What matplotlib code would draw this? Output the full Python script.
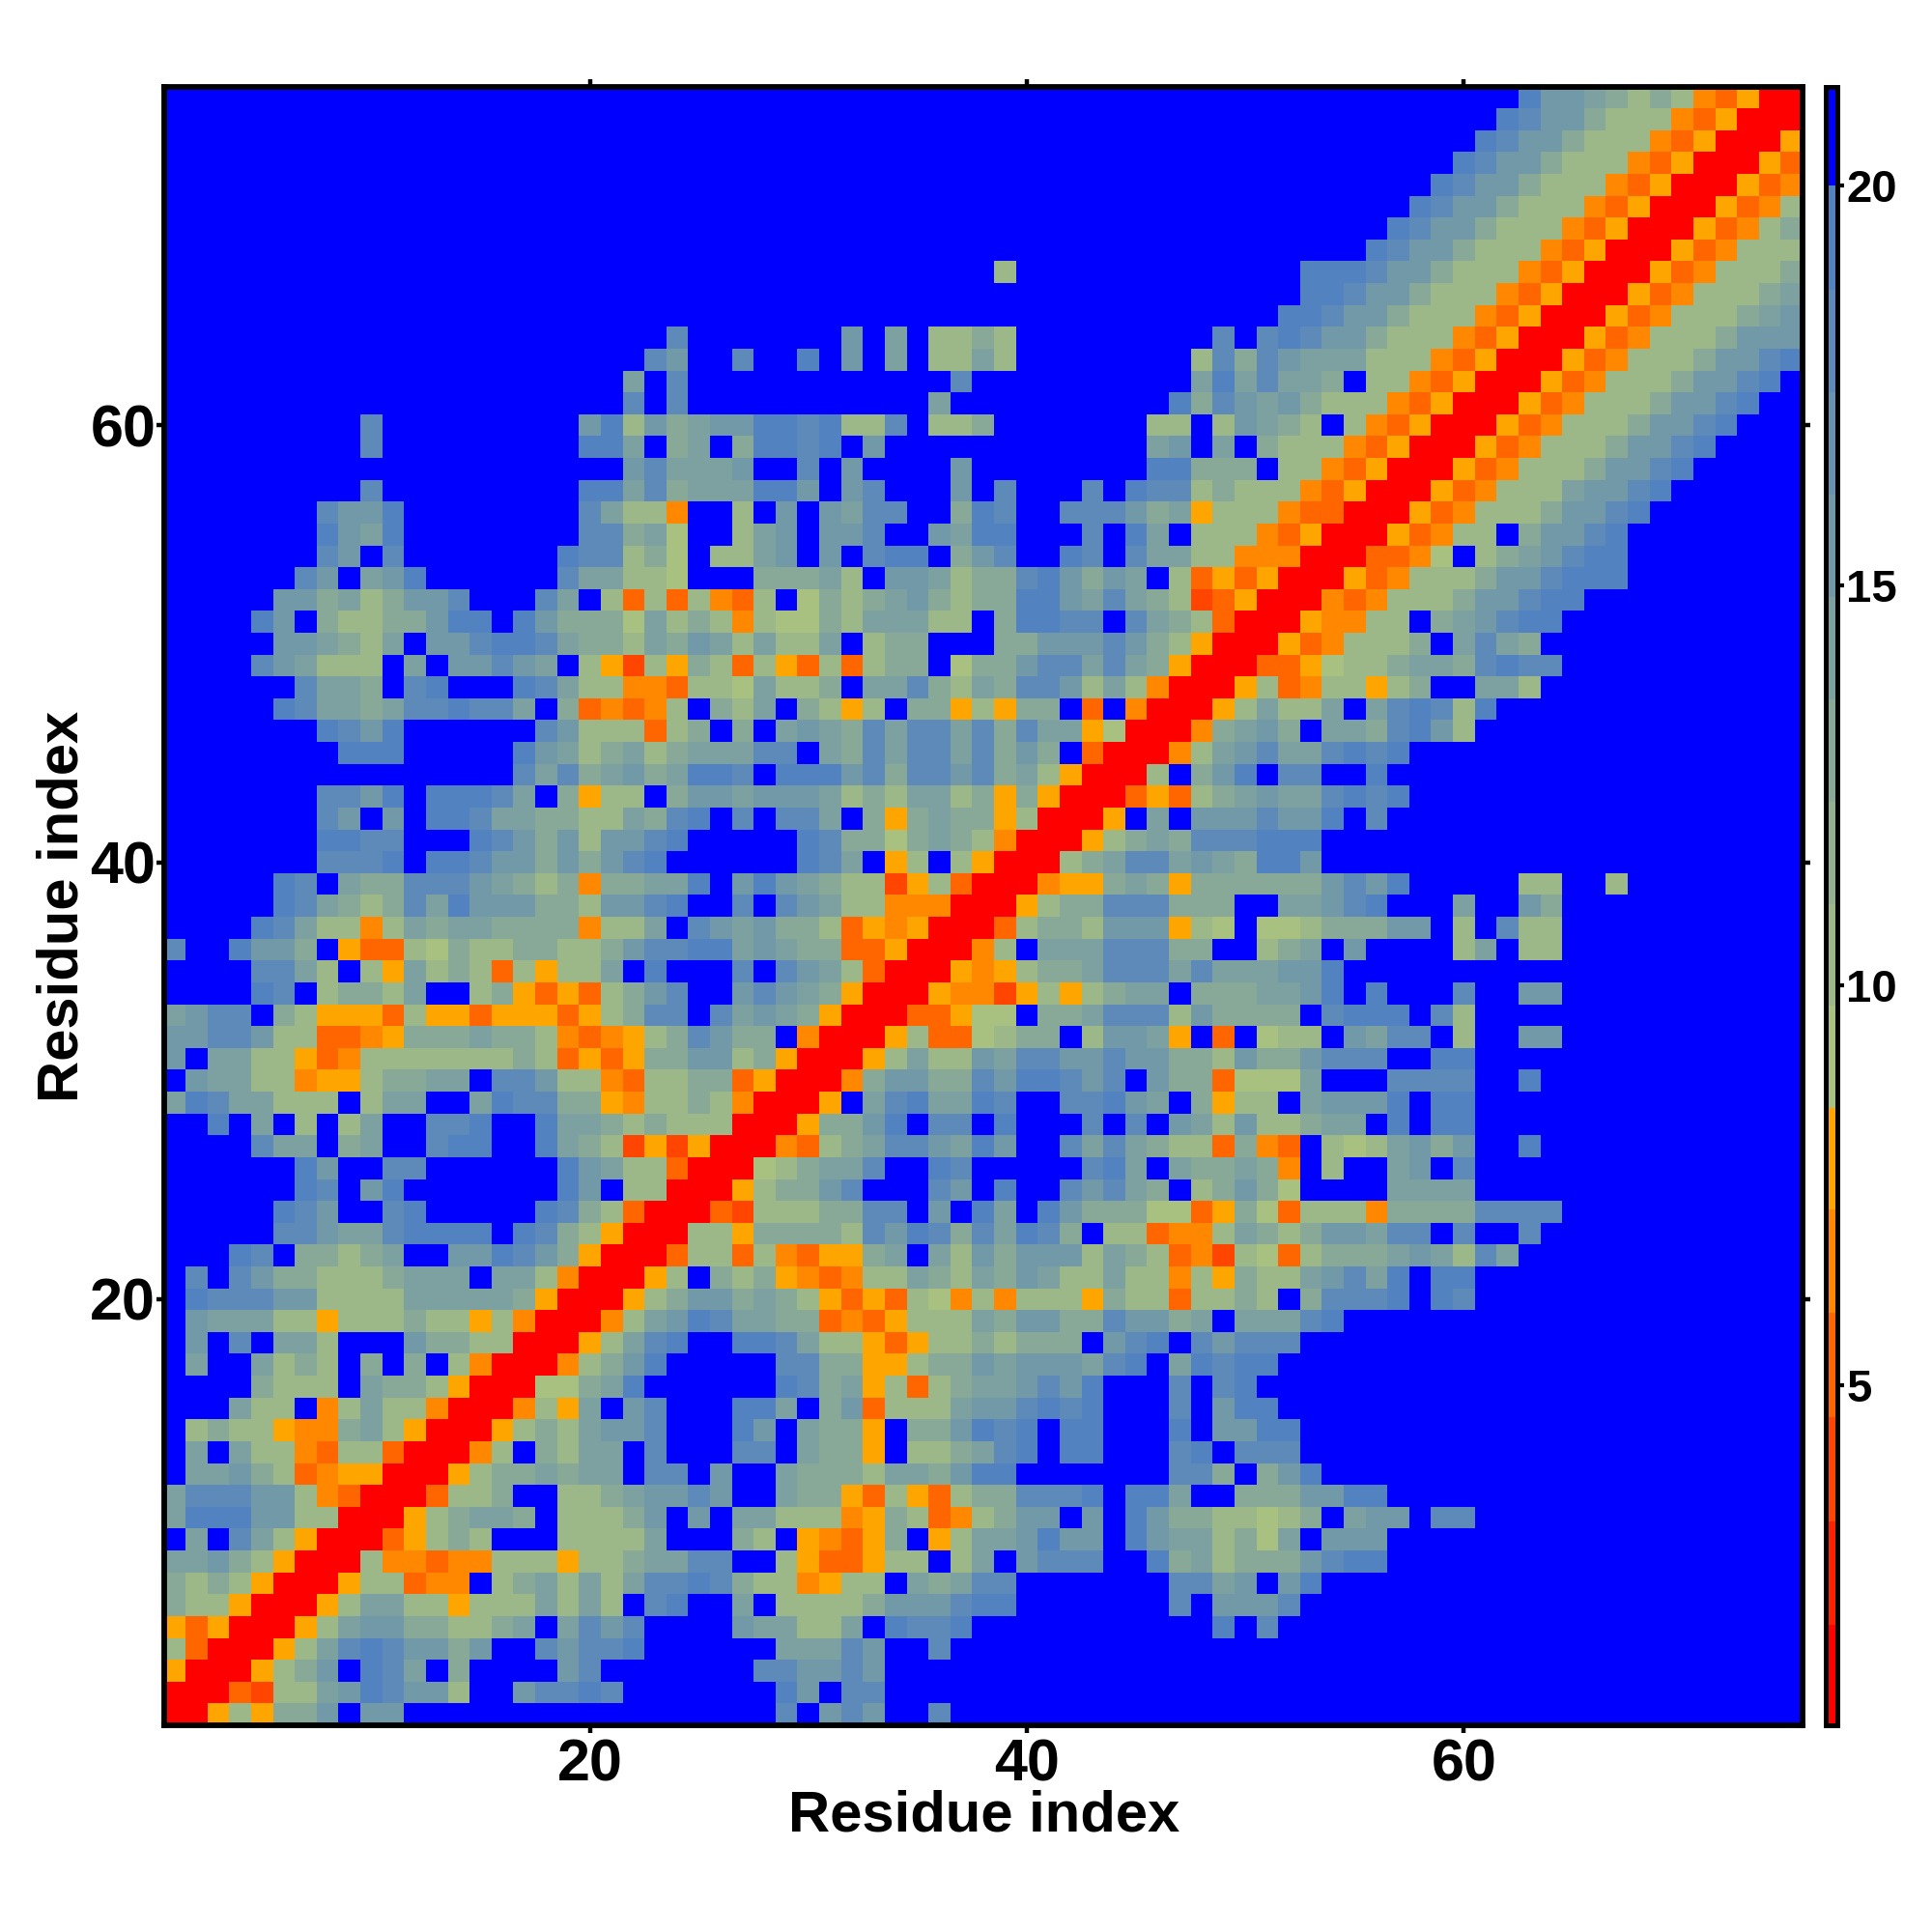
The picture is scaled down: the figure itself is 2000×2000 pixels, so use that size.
import numpy as np
import matplotlib
matplotlib.use("Agg")
import matplotlib.pyplot as plt
from matplotlib.colors import ListedColormap, BoundaryNorm, to_rgb

# Letters/digits stand for estimated distance levels; see LEVEL_VALUES.
LEFT_COLS = [  # residues 1-25
"rra2a335B55","rrrde224576552BB56676","arrra235B764B3BBBB56","2drrra246765535BB65667",
"adarrra2455332234B4656","322arrra24422a2224242B67","3232arrra22dooB2342424667","44532arrr2oodoo222a223446",
"B4B642arrrda232BBB22224","47775522rrra23443B22235B5","4666552odrrrd223BB2234556","B44532doaarrra2334344B66",
"B4B422od22drrro2B3244B6","B2322aoo342arrra2324556","BBB422Bo2422orrro2a4B56","BBBB3222B4332arrr11347",
"B4BB4232B3B3B2orrro2357","B5B6B442BBB53322rrra2467","B544422a222322a2orrro2457","B7666552222444443arrra235",
"B6B65332223444B442orrra2B","BBB76B33234BB557653arrrd2","BBBBB6654467777B7632arrr2","BBBBB765BB67BBBBB7632drrr",
"BBBBBB76B57BBBBBBB75B22rr","BBBBBB75BB66BBBBBB75422dr","BBBB644B34BB677BB7432eaea","BB7B4B2B24BB667BB74432322",
"47644222B244BB476633ao223","B54422oaa23344B66522od223","5B4422ado222222232dada335","5566522ddoa3334332odoa236",
"4566B32aaad2aadaaada2366B","BBBB76B23324BB23adad2356B","BBBB6642B2a4232d2a224B7","6BB7553Badd21322332235667",
"BBBB76422o243443333o224B6","BBBBB7643236475553325567","BBBBB76B43366654323o33447","BBBBBBB6667B77655353567",
"BBBBBBB7766BBB7653525567","BBBBBBB65B5B7764433224367","BBBBBBB6657B77764B3a22B35","BBBBBBBBBBBBBBBB646345347",
"BBBBBBBB777BBBBB754234234","BBBBBBB7657BBBBBB65222d23","BBBBB764434667664B3dodo2B","BBBBBB6443B67BBB76422ood2",
"BBBB654222B4B55654B2ae2a3","BBBBB554324B5567764332435","BBBB75B32233577B753331423","BBBBB553423556BBB64B2d2d2",
"BBBBBB65B457BBBBBB644221B","BBBBBBB65B6BBBBBBB766231B","BBBBBBB7547BBBBBBBB66341B","BBBBBBB6557BBBBBBBB6422oB",
"BBBBBBBBB6BBBBBBBBB774634","BBBBBBBBBBBBBBBBBBBBB5644","BBBBBBBBB6BBBBBBBBB774B34","BBBBBBBBB6BBBBBBBBB572534",
"BBBBBBBBBBBBBBBBBBBBB6B6B","BBBBBBBBBBBBBBBBBBBBB4B6B","BBBBBBBBBBBBBBBBBBBBBB65B","BBBBBBBBBBBBBBBBBBBBBBB6B",
"","","","","","","","","","","",
]
MID_COLS = [  # residues 26-51
"BBB6B565BB6","BBB75B66","BB665565","BBB44465BB6",
"B544224B7667BBBBBBBBBBB7B6","B4B22223555677BBBBBBB6B555","6322oa22B43466BBBBBBB6645B","6BB2adda22B24B5666BB734233",
"B32Baoda3Ba2445755B7544231","B44222oa32do2355B5B7533221","5BB433ad2ad2336667B774BB33","5BB43332443577BBBBBBB663B3",
"B66B433aB223467B77BBB67B66","B75B433aB335767B77BBB7B557","B774B35d2224556767BBB6B577","BBB7634a2d23445657BBB6B67B",
"BBB6633aa23354555467B47677","B776422ada2232333B567B6566","64433doda22243553365534B44","53432adad21o2o222a322d2232",
"323aodo22432435422422o2a32","2d2odaa34B42535552432doe21","2a333326576364763B22doo243","de2223366B5B74B7533311da31",
"ra23356BBB65B7BB65643B2353","rr123446BB76BBBBB674B43343","rrrod234665475BB6464322d3o","2rrra3357B66B7BBB6B6B54252",
"2orrraB4674476BB66754B3a22","3darrro355336577656B533d11","523arrra242254665565533253","533Borrra2dd1233B2554aBdB1",
"64543arrrdda11B33466625333","B56543arrraooea2a2344B3334","B6B6542drrraoa233466646444","745433ddarrro2B44466633BB2",
"545332daoarrrd2332555a21B1","B6B65422ooorrra233666333BB","B5754322ea2drrroaa343a3333","BBBB764Ba2B2arrr2346645437",
"BBBB763313432orrra23436667","B6B664B3a3433a2rrraB4B5556","5455542324423a3arrrdad2345","76B7775636656342arrr2B357B",
"4466B43646646353Bdrrro2456","B3B45436466463644a1rrro345","324B32a2B33a2a33BdBorrra24","214223B4463243665242orrra2",
"2d2ad2d233B1335664643arrrd","424224B233BBB335556532arrr","2o2113244422B37766B6432drr","od2B132345323377546432edar",
"BB33342B554233675354B2dada","2245B5B677B356BB76B64422oo","B245B556BB5477BBB6B74B222o","B2B5B5466BB376BB666534a222",
"44775B56BBB5B6BBB6B7662322","45BB6B5BBBB5BBBBBBBB77333B","B37767B5BBBBBBBBBBBB45B4B3","557767226B223BBBBBBB22B254",
"BBBBBBBBBB4BBBBBBBBBB73654","BBBBBBBBBBB6BBBBBBBBBB4746","B6BB7B5B4B2242BBBBBBBB2636","BBBBBB5B4B2232BBBBBBBBB6B6",
"","","BBBBBBBBBBBBB2","","","","","","","","",
]
RIGHT_COLS = [  # residues 52-75
"","","","","","6","57","35677",
"4B555","23B455B66","35577","57","6","7","","",
"","6","467","B36667B76","245647B77","d2333454264","2355466B6BB6","d222o33336666",
"1BBBB4444","oB2BB45B6","dB2124535BB7","2344B7B77","B45557B77","14BBB6666BB7","35666BB77","22B5466B2BB55",
"3B6777B62","457B7BBB6BB55","557","34B5BBBB24B22","1233355B2B622","44567BBB4BB53","335657BBBBB22BB2","75",
"77","557B6","446767","66BB7","446767","3B4436752","224B467627","do22a23BB442",
"da12234436766","ado2223B4643","raoo22B345677","rrodo222355677","rrrado2223556777","orrrddo1B2345677","darrrado22B35567","oddrrrado22235567",
"2odarrrado22245567","22odarrrado22235567","222odarrrado22235567","32B2odarrrado22235567","53222odarrrado22235567","443B22odarrrado22235567","5444222odarrrado22235567","76553222odarrrado2223555",
"776553222odarrrado222345","B776553222odarrrado22234","B7776553222odarrrado2223","BBBB76553222odarrrado222","BBBBB76553222odarrrado23","BBBBBB76553222odarrrado2","BBBBBBB76553222odarrrado","BBBBBBBB76553222odarrrad",
"BBBBBBBBB76553222odarrra","BBBBBBBBBB76553222odarrr","BBBBBBBBBBB75543232odarr",
]
LEVEL_VALUES = {"r": 1.5, "e": 4.0, "d": 5.2, "o": 6.5, "a": 7.8,
                "1": 9.0, "2": 10.3, "3": 12.9, "4": 14.2, "5": 15.5,
                "6": 18.0, "7": 19.5, "B": 21.0}
BOUNDS = [0.746, 2.0, 3.3, 4.6, 5.9, 7.2, 8.46, 9.74, 11.02, 12.3, 13.58,
          14.86, 16.14, 17.42, 18.7, 20.0, 21.24]
WARM = ["#ff0000", "#ff2200", "#ff4500", "#ff6600", "#ff8800", "#ffa500"]
COOL_START, COOL_END = "#a8c080", "#5282c0"
X_TICKS = [20, 40, 60]
Y_TICKS = [20, 40, 60]
CBAR_TICKS = [5, 10, 15, 20]
AXIS_LABEL = "Residue index"

FONT = "Liberation Sans"
rows = []
for l, m, r in zip(LEFT_COLS, MID_COLS, RIGHT_COLS):
    assert len(l) <= 25 and len(m) <= 26 and len(r) <= 24, (l, m, r)
    rows.append(l.ljust(25, "B") + m.ljust(26, "B") + r.ljust(24, "B"))
assert len(rows) == 75
matrix = np.array([[LEVEL_VALUES[c] for c in row] for row in rows])

c0, c1 = np.array(to_rgb(COOL_START)), np.array(to_rgb(COOL_END))
cool = [tuple(c0 + (c1 - c0) * i / 8) for i in range(9)]
cmap = ListedColormap(WARM + cool + ["#0000ff"])
norm = BoundaryNorm(BOUNDS, cmap.N)

W = 2000.0
fig = plt.figure(figsize=(20, 20), dpi=100, facecolor="white")
ax = fig.add_axes([169.5 / W, (W - 1786) / W, 1696.5 / W, 1696.5 / W])
edges = np.arange(0.5, 76.5)
mesh = ax.pcolormesh(edges, edges, matrix, cmap=cmap, norm=norm, linewidth=0, rasterized=True)
ax.set_xlim(0.5, 75.5)
ax.set_ylim(0.5, 75.5)
ax.set_xticks(X_TICKS)
ax.set_yticks(Y_TICKS)
ax.tick_params(axis="both", which="both", direction="out", length=6, width=3.2,
               top=True, right=True, labelsize=44)
ax.tick_params(axis="x", pad=4)
ax.tick_params(axis="y", pad=0)
for lab in ax.get_xticklabels() + ax.get_yticklabels():
    lab.set_fontfamily(FONT)
    lab.set_fontweight("bold")
for s in ax.spines.values():
    s.set_linewidth(4.2)

fig.text(1019 / W, 1 - 1880 / W, AXIS_LABEL, ha="center", va="center",
         fontsize=43, fontweight="bold", fontfamily=FONT)
fig.text(65 / W, 1 - 938 / W, AXIS_LABEL, ha="center", va="center", rotation=90,
         fontsize=43, fontweight="bold", fontfamily=FONT)

cax = fig.add_axes([1889.5 / W, (W - 1786) / W, 12 / W, 1696.5 / W])
cb = fig.colorbar(mesh, cax=cax, spacing="proportional", ticks=CBAR_TICKS, drawedges=False)
cb.outline.set_linewidth(3.6)
cb.ax.minorticks_off()
cb.ax.tick_params(axis="y", direction="out", length=5, width=3, labelsize=34, pad=2)
for lab in cb.ax.get_yticklabels():
    lab.set_fontfamily(FONT)
    lab.set_fontweight("bold")

fig.savefig("out.png", dpi=100, facecolor="white")
